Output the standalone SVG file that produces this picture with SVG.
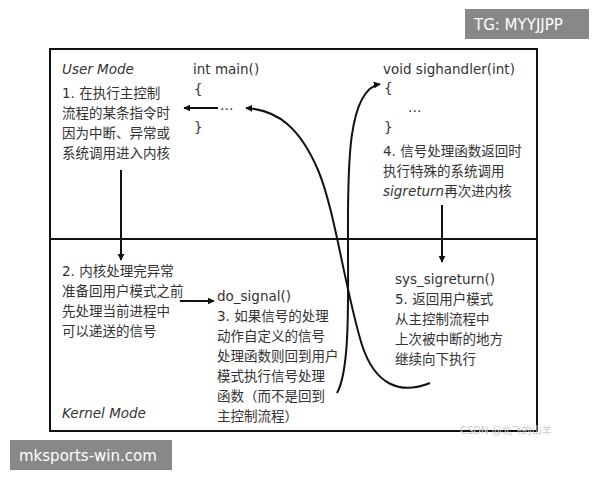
<svg xmlns="http://www.w3.org/2000/svg" width="600" height="480" viewBox="0 0 600 480">
<defs>
<marker id="ah" viewBox="0 0 10 10" refX="9" refY="5" markerWidth="7" markerHeight="7" orient="auto" markerUnits="userSpaceOnUse"><path d="M0,0 L10,5 L0,10 z" fill="#111"/></marker>
</defs>
<style>
text{font-family:"DejaVu Sans","Noto Sans CJK SC",sans-serif;font-size:13.5px;fill:#333}
.it{font-style:italic}
.c{fill:none;stroke:#111;stroke-width:2}
</style>
<rect width="600" height="480" fill="#fff"/>
<rect x="50" y="49" width="487" height="382" fill="#fff" stroke="#111" stroke-width="2"/>
<line x1="50" y1="239" x2="537" y2="239" stroke="#111" stroke-width="2"/>
<g id="user">
<text x="62" y="74" class="it">User Mode</text>
<text x="62" y="98">1. 在执行主控制</text>
<text x="62" y="118">流程的某条指令时</text>
<text x="62" y="138">因为中断、异常或</text>
<text x="62" y="158">系统调用进入内核</text>
</g>
<g id="main">
<text x="193" y="74">int main()</text>
<text x="194" y="94">{</text>
<text x="220" y="110">…</text>
<text x="194" y="132">}</text>
</g>
<g id="sighandler">
<text x="383" y="74">void sighandler(int)</text>
<text x="384" y="93">{</text>
<text x="408" y="112">…</text>
<text x="384" y="132">}</text>
<text x="383" y="156">4. 信号处理函数返回时</text>
<text x="383" y="176">执行特殊的系统调用</text>
<text x="383" y="196"><tspan class="it">sigreturn</tspan>再次进内核</text>
</g>
<g id="kernel">
<text x="62" y="276">2. 内核处理完异常</text>
<text x="62" y="296">准备回用户模式之前</text>
<text x="62" y="316">先处理当前进程中</text>
<text x="62" y="336">可以递送的信号</text>
<text x="62" y="418" class="it">Kernel Mode</text>
</g>
<g id="dosignal">
<text x="217" y="301">do_signal()</text>
<text x="217" y="321">3. 如果信号的处理</text>
<text x="217" y="341">动作自定义的信号</text>
<text x="217" y="361">处理函数则回到用户</text>
<text x="217" y="381">模式执行信号处理</text>
<text x="217" y="401">函数（而不是回到</text>
<text x="217" y="421">主控制流程）</text>
</g>
<g id="sigreturn">
<text x="395" y="284">sys_sigreturn()</text>
<text x="395" y="304">5. 返回用户模式</text>
<text x="395" y="324">从主控制流程中</text>
<text x="395" y="344">上次被中断的地方</text>
<text x="395" y="364">继续向下执行</text>
</g>
<g id="connectors">
<line class="c" x1="218" y1="108" x2="184" y2="108" marker-end="url(#ah)"/>
<line class="c" x1="121" y1="170" x2="121" y2="260" marker-end="url(#ah)"/>
<line class="c" x1="180" y1="301" x2="214" y2="301" marker-end="url(#ah)"/>
<line class="c" x1="442" y1="205" x2="442" y2="262" marker-end="url(#ah)"/>
<path class="c" d="M430,383 C400,395 375,385 362,345 C345,290 335,210 318,170 C300,128 278,110 246,108" marker-end="url(#ah)"/>
<path class="c" d="M337,393 C350,370 348,300 348,250 C348,180 345,90 380,84" marker-end="url(#ah)"/>
</g>
<g id="watermarks">
<rect x="465" y="9" width="124" height="30" fill="#888"/>
<text x="474" y="30" style="fill:#fff;font-size:15px">TG: MYYJJPP</text>
<rect x="10" y="440" width="162" height="30" fill="#888"/>
<text x="19" y="461" style="fill:#fff;font-size:15px">mksports-win.com</text>
<text x="460" y="434" style="fill:#ccc;font-size:10px">CSDN @北飞的山羊</text>
</g>
</svg>
